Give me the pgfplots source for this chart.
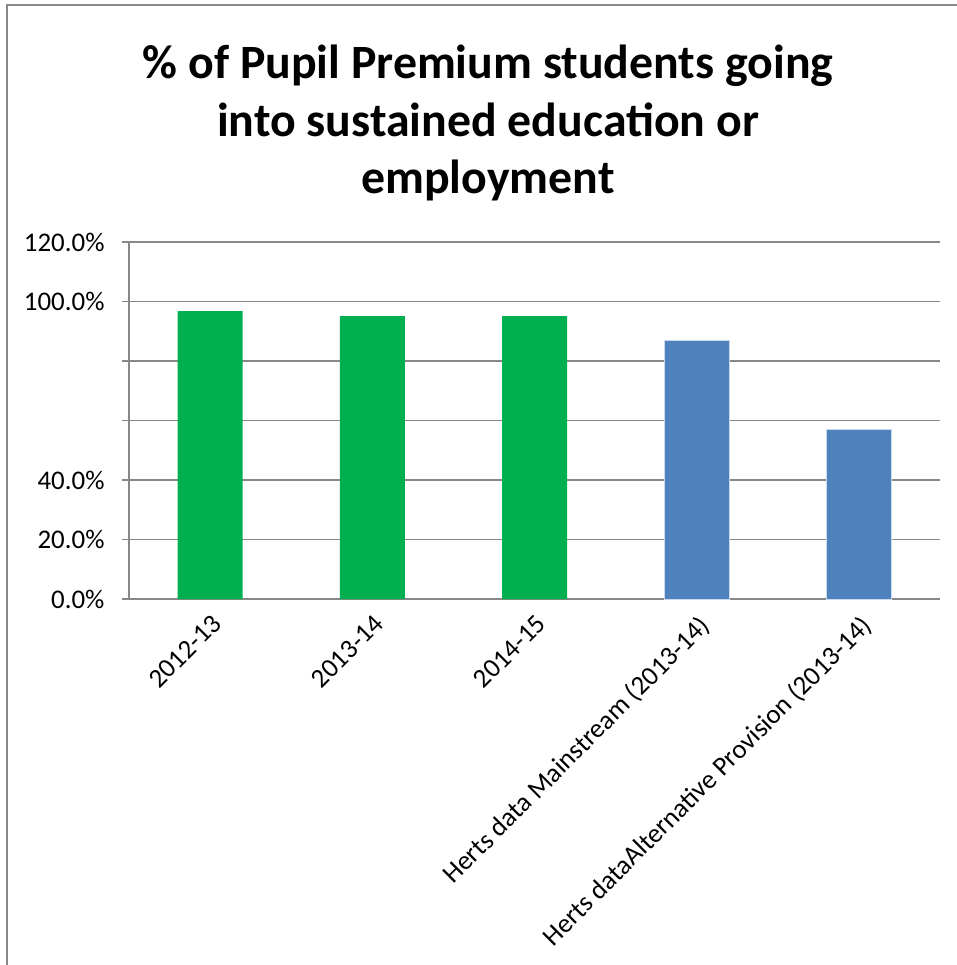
\documentclass[border=0pt]{standalone}
\usepackage{pgfplots}
\pgfplotsset{compat=1.18}
\usepackage{fontspec}
\setmainfont{Carlito}
\definecolor{ggreen}{HTML}{00B050}
\definecolor{gblue}{HTML}{4F81BD}
\definecolor{gridgray}{HTML}{888888}
\begin{document}
\begin{tikzpicture}[x=1bp,y=1bp]
\useasboundingbox (0,0) rectangle (957bp,-965bp);
\draw[gridgray, line width=1.5bp] (7bp,-965bp) -- (7bp,-5bp) -- (957bp,-5bp);
\node[font=\fontsize{48}{58}\selectfont\bfseries, align=center] at (488bp,-123bp) {\% of Pupil Premium students going\\into sustained education or\\employment};
\begin{axis}[
  at={(129bp,-599bp)}, anchor=south west,
  scale only axis, width=811bp, height=357bp,
  xmin=-0.5, xmax=4.5, ymin=0, ymax=120,
  axis x line*=bottom, axis y line*=left,
  axis line style={gridgray, line width=1.2bp},
  ytick={0,20,...,120},
  yticklabels={0.0\%,20.0\%,40.0\%,,,100.0\%,120.0\%},
  y tick label style={xshift=-14bp},
  ymajorgrids, grid style={gridgray, line width=1.2bp},
  tick align=outside,
  major tick length=7bp,
  tick style={gridgray, line width=1.2bp},
  xtick={0,...,4},
  xtick style={draw=none},
  xticklabels={2012-13,2013-14,2014-15,Herts data Mainstream (2013-14),Herts dataAlternative Provision (2013-14)},
  x tick label style={rotate=45, anchor=north east, inner sep=1bp, xshift=-3.6bp, yshift=-4.4bp},
  extra x ticks={-0.5,0.5,...,4.5},
  extra x tick labels={},
  extra x tick style={grid=none, tick style={draw=gridgray, line width=1.2bp}, major tick length=9bp},
  tick label style={font=\fontsize{27}{31}\selectfont},
  ybar, bar width=65bp,
]
\addplot[fill=ggreen, draw=none, bar shift=0pt] coordinates {(0,96.8) (1,95.1) (2,95.1)};
\addplot[fill=gblue, draw=white!70!gblue, line width=0.8bp, bar shift=0pt] coordinates {(3,87.0) (4,57.1)};
\end{axis}
\end{tikzpicture}
\end{document}
